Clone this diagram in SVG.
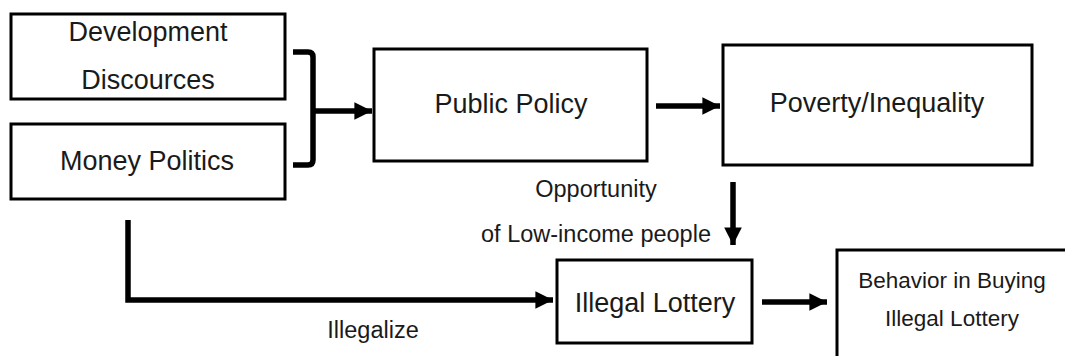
<svg xmlns="http://www.w3.org/2000/svg" width="1065" height="356" viewBox="0 0 1065 356">
<defs>
<style>
.box{fill:#fff;stroke:#000;stroke-width:3}
.t{font-family:"Liberation Sans",Arial,sans-serif;font-size:27px;fill:#1a1a1a;text-anchor:middle}
.s{font-family:"Liberation Sans",Arial,sans-serif;font-size:23.5px;fill:#1a1a1a;text-anchor:middle}
.b{font-family:"Liberation Sans",Arial,sans-serif;font-size:22.5px;fill:#1a1a1a;text-anchor:middle}
.c{fill:none;stroke:#000;stroke-width:5.5}
</style>
<marker id="ah" viewBox="0 0 10 10" refX="10" refY="5" markerWidth="3.2" markerHeight="3.4" markerUnits="strokeWidth" orient="auto">
<path d="M0,0 L10,5 L0,10 Z" fill="#000"/>
</marker>
</defs>
<rect width="1065" height="356" fill="#fff"/>
<g id="connectors">
<path class="c" d="M293,52 H308 Q313,52 313,57 V160 Q313,165 308,165 H293"/>
<path class="c" d="M313,111 H372" marker-end="url(#ah)"/>
<path class="c" d="M656,106 H720" marker-end="url(#ah)"/>
<path class="c" d="M733,182 V245" marker-end="url(#ah)"/>
<path class="c" d="M128,220 V300 H553" marker-end="url(#ah)"/>
<path class="c" d="M762,302 H827" marker-end="url(#ah)"/>
<text class="s" x="596" y="197">Opportunity</text>
<text class="s" x="596" y="242">of Low-income people</text>
<text class="s" x="373" y="338">Illegalize</text>
</g>
<g id="development">
<rect class="box" x="11" y="14" width="274" height="85"/>
<text class="t" x="148" y="41">Development</text>
<text class="t" x="148" y="89">Discources</text>
</g>
<g id="money-politics">
<rect class="box" x="11" y="124" width="274" height="75"/>
<text class="t" x="147" y="170">Money Politics</text>
</g>
<g id="public-policy">
<rect class="box" x="374" y="49" width="273" height="112"/>
<text class="t" x="511" y="113">Public Policy</text>
</g>
<g id="poverty">
<rect class="box" x="723" y="45" width="309" height="120"/>
<text class="t" x="877" y="112">Poverty/Inequality</text>
</g>
<g id="illegal-lottery">
<rect class="box" x="557" y="260" width="195" height="83"/>
<text class="t" x="655" y="312">Illegal Lottery</text>
</g>
<g id="behavior">
<rect class="box" x="837" y="250" width="240" height="130"/>
<text class="b" x="952" y="288">Behavior in Buying</text>
<text class="b" x="952" y="326">Illegal Lottery</text>
</g>
</svg>
